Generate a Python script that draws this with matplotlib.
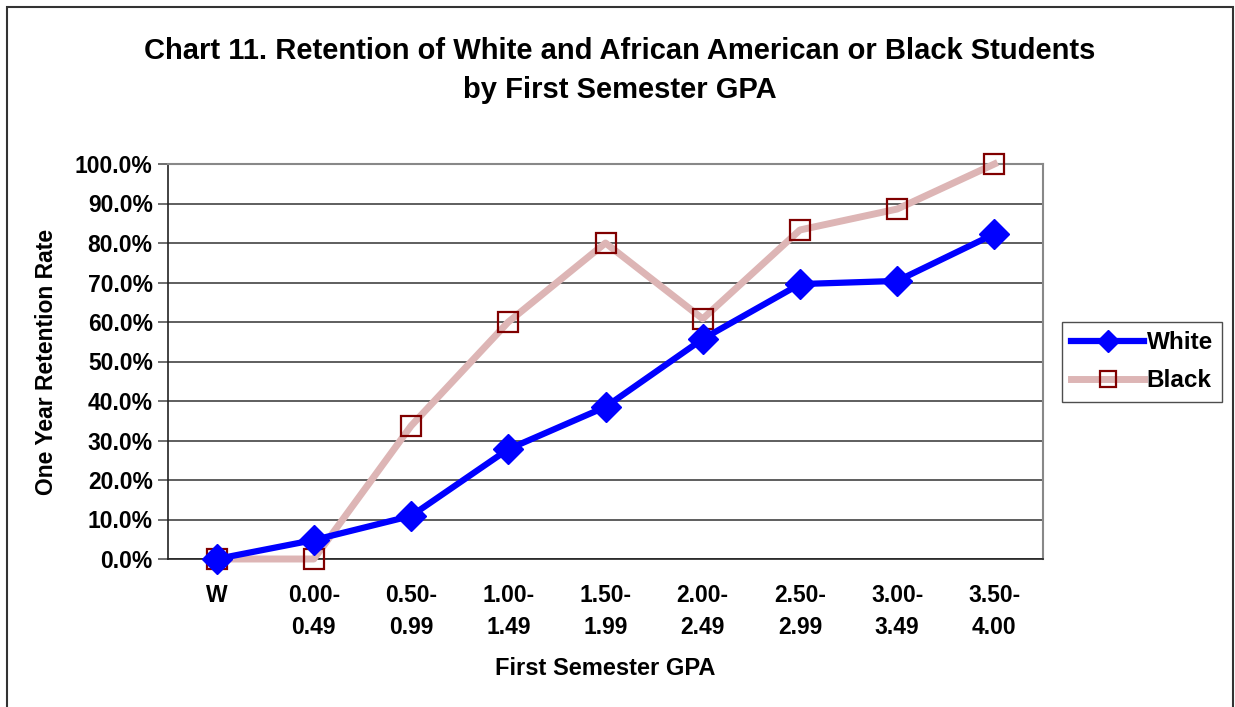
import matplotlib.pyplot as plt
from matplotlib.patches import Rectangle
from matplotlib.ticker import FuncFormatter

plt.rcParams['font.family'] = ['Liberation Sans', 'DejaVu Sans']
plt.rcParams['font.weight'] = 'bold'

# Retention by first semester GPA band
gpa_bands = ['W', '0.00-\n0.49', '0.50-\n0.99', '1.00-\n1.49', '1.50-\n1.99',
             '2.00-\n2.49', '2.50-\n2.99', '3.00-\n3.49', '3.50-\n4.00']
white = [0.0, 4.8, 10.9, 27.8, 38.5, 55.7, 69.6, 70.4, 82.3]
black = [0.0, 0.0, 33.7, 60.0, 80.0, 60.8, 83.3, 88.6, 100.0]

fig = plt.figure(figsize=(12.35, 7.07), dpi=100)
ax = fig.add_axes([168 / 1235, 1 - 559 / 707, 875 / 1235, 395 / 707])

x = range(len(gpa_bands))
ax.plot(x, white, color='#0000FF', lw=4.5, marker='D', ms=15,
        mfc='#0000FF', mec='#0000FF', label='White', zorder=4, clip_on=False)
ax.plot(x, black, color='#DDB5B5', lw=5, marker='s', ms=15,
        mfc='none', mec='#800000', mew=1.6, label='Black', zorder=3, clip_on=False)

ax.set_xlim(-0.5, len(gpa_bands) - 0.5)
ax.set_ylim(0, 100)
ax.set_yticks(range(0, 101, 10))
ax.yaxis.set_major_formatter(FuncFormatter(lambda v, p: f'{v:.1f}%'))
ax.set_xticks(list(x))
ax.set_xticklabels(gpa_bands, fontsize=16.5, fontweight='bold', linespacing=1.5)
ax.tick_params(axis='x', length=0, pad=18)
ax.tick_params(axis='y', length=7, width=1.2, color='#555555', labelsize=16.5, pad=4)
for lbl in ax.get_yticklabels():
    lbl.set_fontweight('bold')

ax.grid(axis='y', color='#333333', lw=1.1)
ax.set_axisbelow(True)
for side in ['top', 'right']:
    ax.spines[side].set_color('#888888')
    ax.spines[side].set_linewidth(1.5)
for side in ['left', 'bottom']:
    ax.spines[side].set_color('#222222')
    ax.spines[side].set_linewidth(1.2)

ax.set_xlabel('First Semester GPA', fontsize=17, fontweight='bold', labelpad=13)
ax.set_ylabel('One Year Retention Rate', fontsize=16.5, fontweight='bold', labelpad=12)

fig.text(620 / 1235, 1 - 70.5 / 707,
         'Chart 11. Retention of White and African American or Black Students\nby First Semester GPA',
         ha='center', va='center', fontsize=21, fontweight='bold', linespacing=1.53)

leg = fig.legend(loc='upper left', bbox_to_anchor=(1062 / 1235, 1 - 322 / 707),
                 frameon=True, fancybox=False, edgecolor='#222222',
                 prop={'size': 17.5, 'weight': 'bold'}, handlelength=3.0,
                 handletextpad=0.1, borderpad=0.38, labelspacing=0.62,
                 borderaxespad=0, markerscale=0.75)
leg.get_frame().set_linewidth(1.0)

# outer chart border
fig.patches.append(Rectangle((7 / 1235, -0.01), 1226 / 1235, 1 - 7 / 707 + 0.01,
                             transform=fig.transFigure, fill=False,
                             edgecolor='#333333', lw=1.5))

fig.savefig('out.png', dpi=100)
